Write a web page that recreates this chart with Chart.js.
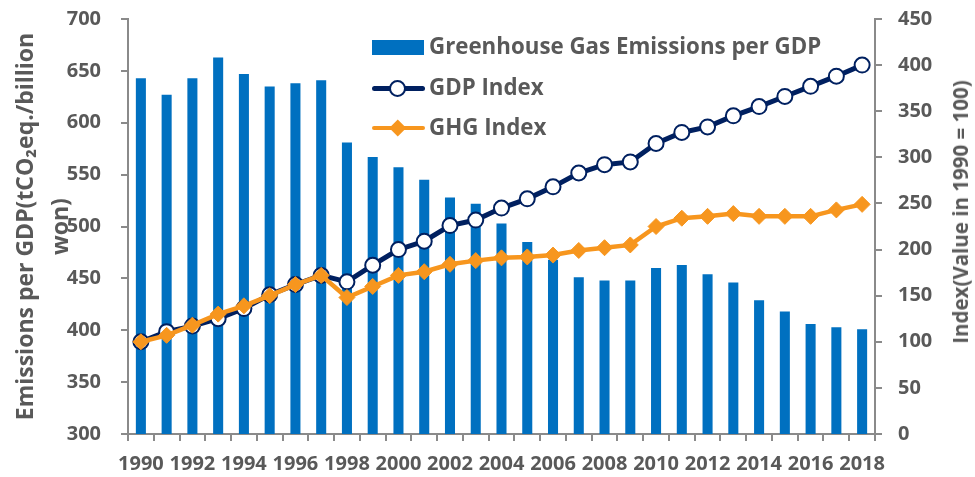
<!DOCTYPE html>
<html>
<head>
<meta charset="utf-8">
<script src="https://cdn.jsdelivr.net/npm/chart.js@4.4.1/dist/chart.umd.min.js"></script>
<style>
  html, body { margin: 0; padding: 0; background: #ffffff; }
  #wrap { position: relative; width: 975px; height: 477px; font-family: 'Open Sans', sans-serif; }
  #c { position: absolute; left: 0; top: 0; }
  .lg { position: absolute; font-weight: bold; font-size: 22.3px; color: #595959; white-space: nowrap; line-height: 26px; }
  .sw { position: absolute; }
  #rtitle { position: absolute; left: 960px; top: 212px; width: 0; height: 0; }
  #rtitle span { position: absolute; left: 0; top: 0; transform: translate(-50%, -50%) rotate(-90deg);
            font-weight: bold; font-size: 20.5px; line-height: 24px; color: #595959; white-space: nowrap; }
</style>
</head>
<body>
<div id="wrap">
  <canvas id="c" width="975" height="477"></canvas>
  <div id="legend"></div>
  <div id="rtitle"><span id="rtext"></span></div>
</div>
<script>
const years = ['1990','1991','1992','1993','1994','1995','1996','1997','1998','1999',
               '2000','2001','2002','2003','2004','2005','2006','2007','2008','2009',
               '2010','2011','2012','2013','2014','2015','2016','2017','2018'];
const emissionsPerGDP = [643, 627, 643, 663, 647, 635, 638, 641, 581, 567,
                         557, 545, 528, 522, 503, 485, 468, 451, 448, 448,
                         460, 463, 454, 446, 429, 418, 406, 403, 401];
const gdpIndex = [100, 111, 117, 125, 136, 151, 162, 172, 165, 183,
                  200, 209, 226, 232, 245, 255, 268, 283, 292, 295,
                  315, 327, 333, 345, 355, 366, 377, 388, 400];
const ghgIndex = [100, 107, 118, 130, 139, 150, 162, 172, 148, 160,
                  172, 176, 184, 188, 191, 192, 194, 199, 202, 205,
                  225, 234, 236, 239, 236, 236, 236, 243, 249];
const seriesNames = ['Greenhouse Gas Emissions per GDP', 'GDP Index', 'GHG Index'];
const leftTitle = ['Emissions per GDP(tCO\u2082eq./billion', 'won)'];
const rightTitle = 'Index(Value in 1990 = 100)';
const leftTicks = {min: 300, max: 700, step: 50};
const rightTicks = {min: 0, max: 450, step: 50};

const TXT = '#595959';
const AX = '#8a8a8a';
const BAR = '#0070C0';
const NAVY = '#002060';
const ORANGE = '#F7961E';
const FONT = "'Open Sans', sans-serif";

document.getElementById('rtext').textContent = rightTitle;

// HTML legend
const lg = document.getElementById('legend');
function add(html) { lg.insertAdjacentHTML('beforeend', html); }
add(`<div class="sw" style="left:372px;top:40px;width:52px;height:15px;background:${BAR}"></div>`);
add(`<div class="lg" style="left:429px;top:33px">${seriesNames[0]}</div>`);
add(`<div class="sw" style="left:372px;top:85.5px;width:53px;height:5px;border-radius:2.5px;background:${NAVY}"></div>`);
add(`<div class="sw" style="left:389px;top:80px;width:13px;height:13px;border-radius:50%;background:#fff;border:2px solid ${NAVY}"></div>`);
add(`<div class="lg" style="left:429px;top:74px">${seriesNames[1]}</div>`);
add(`<div class="sw" style="left:372px;top:125.5px;width:53px;height:4.5px;border-radius:2px;background:${ORANGE}"></div>`);
add(`<div class="sw" style="left:392px;top:122px;width:11.5px;height:11.5px;background:${ORANGE};transform:rotate(45deg)"></div>`);
add(`<div class="lg" style="left:429px;top:114px">${seriesNames[2]}</div>`);

new Chart(document.getElementById('c'), {
  data: {
    labels: years,
    datasets: [
      {
        type: 'bar', label: seriesNames[0], data: emissionsPerGDP, yAxisID: 'y',
        backgroundColor: BAR, borderWidth: 0, barPercentage: 0.39, categoryPercentage: 1.0, order: 2
      },
      {
        type: 'line', label: seriesNames[1], data: gdpIndex, yAxisID: 'y1',
        borderColor: NAVY, borderWidth: 5, backgroundColor: '#ffffff',
        pointRadius: 7.5, pointBorderWidth: 2, pointBorderColor: NAVY, pointBackgroundColor: '#ffffff',
        tension: 0, order: 1
      },
      {
        type: 'line', label: seriesNames[2], data: ghgIndex, yAxisID: 'y1',
        borderColor: ORANGE, borderWidth: 4.5, backgroundColor: ORANGE,
        pointStyle: 'rectRot', pointRadius: 8, pointBorderWidth: 1, pointBorderColor: ORANGE, pointBackgroundColor: ORANGE,
        tension: 0, order: 0
      }
    ]
  },
  options: {
    responsive: false,
    animation: false,
    devicePixelRatio: 1,
    layout: { padding: { top: 19, right: 0, left: 0, bottom: 0 } },
    plugins: { legend: { display: false }, tooltip: { enabled: false } },
    scales: {
      x: {
        type: 'category',
        offset: true,
        grid: { display: true, drawOnChartArea: false, drawTicks: true, tickLength: 7, color: AX, lineWidth: 2, offset: true },
        border: { display: true, color: AX, width: 2 },
        ticks: {
          autoSkip: false, maxRotation: 0, minRotation: 0, padding: 11, color: TXT,
          font: { family: FONT, size: 20, weight: 'bold' },
          callback: function(v, i) { return i % 2 === 0 ? years[i] : ''; }
        },
        afterFit: function(s) { s.height = 43; s.paddingLeft = 0; s.paddingRight = 0; }
      },
      y: {
        type: 'linear', position: 'left',
        min: leftTicks.min, max: leftTicks.max,
        grid: { display: true, drawOnChartArea: false, drawTicks: true, tickLength: 7, color: AX, lineWidth: 2 },
        border: { display: true, color: AX, width: 2 },
        ticks: { stepSize: leftTicks.step, padding: 20, color: TXT, font: { family: FONT, size: 20, weight: 'bold' } },
        title: {
          display: true, text: leftTitle, color: TXT,
          font: { family: FONT, size: 23, weight: 'bold', lineHeight: 1.52 },
          padding: { top: 9, bottom: 0 }
        },
        afterFit: function(s) { s.width = 128; s.paddingTop = 0; s.paddingBottom = 0; }
      },
      y1: {
        type: 'linear', position: 'right',
        min: rightTicks.min, max: rightTicks.max,
        grid: { display: true, drawOnChartArea: false, drawTicks: true, tickLength: 7, color: AX, lineWidth: 2 },
        border: { display: true, color: AX, width: 2 },
        ticks: { stepSize: rightTicks.step, padding: 16, color: TXT, font: { family: FONT, size: 20, weight: 'bold' } },
        afterFit: function(s) { s.width = 100; s.paddingTop = 0; s.paddingBottom = 0; }
      }
    }
  }
});
</script>
</body>
</html>
